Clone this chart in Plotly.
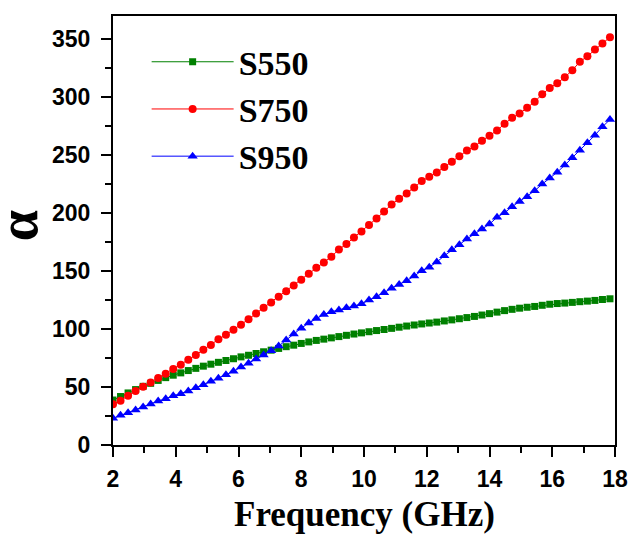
import plotly.graph_objects as go

freq = [2.00, 2.24, 2.48, 2.72, 2.96, 3.20, 3.44, 3.68, 3.92, 4.16, 4.40, 4.64, 4.88,
        5.12, 5.36, 5.60, 5.84, 6.08, 6.32, 6.56, 6.80, 7.04, 7.28, 7.52, 7.76, 8.00,
        8.24, 8.48, 8.72, 8.96, 9.20, 9.44, 9.68, 9.92, 10.16, 10.40, 10.64, 10.88,
        11.12, 11.36, 11.60, 11.84, 12.08, 12.32, 12.56, 12.80, 13.04, 13.28, 13.52,
        13.76, 14.00, 14.24, 14.48, 14.72, 14.96, 15.20, 15.44, 15.68, 15.92, 16.16,
        16.40, 16.64, 16.88, 17.12, 17.36, 17.60, 17.84]

s550 = [38.8, 41.8, 44.9, 47.8, 50.6, 53.2, 55.7, 58.1, 60.2, 62.2, 64.2, 66.1, 68.0,
        69.7, 71.3, 72.9, 74.4, 76.0, 77.4, 78.9, 80.4, 81.8, 83.3, 84.8, 86.1, 87.6,
        88.9, 90.2, 91.3, 92.4, 93.5, 94.6, 95.7, 96.7, 97.7, 98.7, 99.6, 100.6, 101.6,
        102.6, 103.5, 104.4, 105.2, 106.0, 107.0, 107.9, 108.9, 109.9, 110.9, 112.1,
        113.3, 114.6, 115.9, 117.0, 118.0, 118.8, 119.5, 120.5, 121.4, 122.0, 122.4,
        123.0, 123.6, 124.1, 124.7, 125.5, 126.1]

s750 = [35.1, 38.2, 42.5, 46.6, 50.3, 54.0, 57.8, 61.5, 65.5, 69.3, 73.5, 77.6, 82.2,
        86.2, 91.1, 95.1, 99.4, 103.7, 108.4, 113.5, 118.4, 123.0, 127.8, 132.5, 137.6,
        142.5, 147.6, 152.9, 157.5, 162.4, 168.7, 173.3, 179.0, 184.2, 189.7, 195.4,
        201.4, 207.5, 212.4, 216.9, 222.1, 227.6, 231.3, 235.0, 239.8, 244.2, 249.0,
        254.0, 257.5, 262.4, 266.7, 271.3, 277.0, 282.2, 285.9, 290.8, 296.0, 302.6,
        307.8, 312.1, 317.2, 323.3, 330.5, 335.3, 341.1, 346.3, 351.7]

s950 = [23.0, 25.6, 27.9, 30.2, 32.8, 35.3, 37.9, 39.9, 42.5, 44.3, 46.6, 49.4, 52.0,
        54.9, 57.5, 60.6, 63.5, 67.2, 70.4, 74.1, 77.6, 81.3, 85.3, 90.5, 95.7, 100.8,
        105.2, 109.2, 112.6, 114.9, 116.4, 118.4, 119.8, 121.8, 125.0, 127.9, 131.3,
        135.3, 138.5, 141.7, 145.7, 150.3, 153.4, 157.8, 163.2, 168.4, 172.8, 177.7,
        182.2, 186.4, 190.5, 196.4, 200.3, 205.5, 210.1, 214.1, 219.3, 225.0, 230.2,
        235.3, 241.4, 247.7, 254.3, 260.6, 267.2, 274.4, 280.7]

series = [
    ("S550", s550, "#008000", "square", 7),
    ("S750", s750, "#FF0000", "circle", 8),
    ("S950", s950, "#0000FF", "triangle-up", 9),
]

x_ticks = [2, 4, 6, 8, 10, 12, 14, 16, 18]
y_ticks = [0, 50, 100, 150, 200, 250, 300, 350]
x_title = "Frequency (GHz)"
y_title = "α"

fig = go.Figure()
for name, vals, color, sym, size in series:
    fig.add_trace(go.Scatter(
        x=freq, y=vals, name=name, mode="lines+markers",
        line=dict(color=color, width=1),
        marker=dict(symbol=sym, size=size, color=color, line=dict(width=0)),
    ))

tickfont = dict(family="Liberation Sans, Arial, sans-serif", size=23, color="black", weight="bold")
serif = "Liberation Serif, Times New Roman, serif"

fig.update_layout(
    width=632, height=534,
    margin=dict(l=113, r=17, t=16, b=89),
    paper_bgcolor="white", plot_bgcolor="white",
    showlegend=True,
    legend=dict(
        x=0.067, y=0.96, xanchor="left", yanchor="top",
        bgcolor="rgba(0,0,0,0)",
        font=dict(family=serif, size=34, color="black", weight="bold"),
        itemwidth=82, tracegroupgap=0,
    ),
    xaxis=dict(
        range=[2, 18], tickvals=x_ticks, ticktext=[str(v) for v in x_ticks],
        automargin=False,
        showgrid=False, zeroline=False, showline=True, linecolor="black", linewidth=2,
        mirror=True, ticks="outside", ticklen=10, tickwidth=2, tickcolor="black",
        tickfont=tickfont, ticklabelstandoff=2,
        minor=dict(dtick=1, ticks="outside", ticklen=6, tickwidth=2, tickcolor="black"),
    ),
    yaxis=dict(
        range=[0, 370], tickvals=y_ticks, ticktext=[str(v) for v in y_ticks],
        automargin=False,
        showgrid=False, zeroline=False, showline=True, linecolor="black", linewidth=2,
        mirror=True, ticks="outside", ticklen=10, tickwidth=2, tickcolor="black",
        tickfont=tickfont, ticklabelstandoff=6,
        minor=dict(dtick=25, ticks="outside", ticklen=6, tickwidth=2, tickcolor="black"),
    ),
    annotations=[
        dict(text=x_title, xref="paper", yref="paper", x=0.5, y=-0.162,
             xanchor="center", yanchor="middle", showarrow=False,
             font=dict(family=serif, size=35, color="black", weight="bold")),
        dict(text=y_title, xref="paper", yref="paper", x=-0.189, y=0.51,
             xanchor="center", yanchor="middle", showarrow=False, textangle=-90,
             font=dict(family=serif, size=56, color="black", weight="bold")),
    ],
)

fig.write_html("out.html")
